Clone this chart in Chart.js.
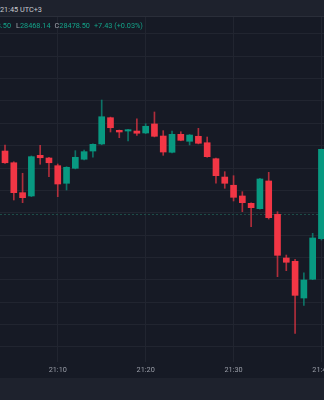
<!DOCTYPE html>
<html>
<head>
<meta charset="utf-8">
<title>BTC 1m</title>
<script src="https://cdn.jsdelivr.net/npm/chart.js@4/dist/chart.umd.min.js"></script>
<style>
  body {
    margin: 0;
    width: 324px;
    height: 400px;
    overflow: hidden;
    position: relative;
    background: #161a25;
    font-family: Roboto, "Liberation Sans", sans-serif;
  }

  /* TOP BAR */
  #topbar {
    position: absolute;
    left: 0;
    top: 0;
    width: 324px;
    height: 16px;
    background: #1e222d;
    border-bottom: 1px solid #2a2e39;
  }

  #topbar span {
    position: absolute;
    left: 0;
    top: 5px;
    font-size: 7.3px;
    line-height: 9px;
    color: #c8cad0;
    white-space: nowrap;
  }

  /* CHART */
  #wrap {
    position: absolute;
    left: 0;
    top: 17px;
    width: 324px;
    height: 361px;
  }

  /* OHLC LEGEND */
  #legend {
    position: absolute;
    left: 0;
    top: 21px;
    display: flex;
    font-size: 7.3px;
    line-height: 9px;
    color: #14a389;
    white-space: nowrap;
  }

  #legend b {
    font-weight: normal;
    color: #a3a6af;
  }

  #legend .item {
    margin-left: 4px;
  }

  #legend .clip {
    position: relative;
    display: inline-block;
    width: 11px;
    height: 9px;
    overflow: hidden;
    margin-left: 0;
  }

  #legend .clip span {
    position: absolute;
    right: 0;
    top: 0;
  }

  #legend .first {
    margin-left: 5px;
  }

  /* BOTTOM BAR */
  #bottombar {
    position: absolute;
    left: 0;
    top: 378px;
    width: 324px;
    height: 22px;
    background: #1e222d;
  }
</style>
</head>
<body>

<div id="topbar"><span>21:45 UTC+3</span></div>

<div id="wrap"><canvas id="candleChart"></canvas></div>

<div id="legend">
  <span class="clip"><span><b>H</b>28478.50</span></span>
  <span class="item first"><b>L</b>28468.14</span>
  <span class="item"><b>C</b>28478.50</span>
  <span class="item">+7.43 (+0.03%)</span>
</div>

<div id="bottombar"></div>

<script>
/* ==========================================
   CANDLE DATA (1 MINUTE)
========================================== */

const times = [
  "21:04", "21:05", "21:06", "21:07", "21:08", "21:09", "21:10", "21:11",
  "21:12", "21:13", "21:14", "21:15", "21:16", "21:17", "21:18", "21:19",
  "21:20", "21:21", "21:22", "21:23", "21:24", "21:25", "21:26", "21:27",
  "21:28", "21:29", "21:30", "21:31", "21:32", "21:33", "21:34", "21:35",
  "21:36", "21:37", "21:38", "21:39", "21:40"
];

const opens = [
  28484.40, 28483.09, 28479.74, 28479.37, 28483.92, 28483.62, 28482.76, 28480.79,
  28482.47, 28483.48, 28484.40, 28485.19, 28488.13, 28486.72, 28486.64, 28486.64,
  28486.42, 28487.43, 28486.08, 28484.26, 28486.27, 28485.49, 28486.05, 28485.33,
  28483.54, 28481.49, 28480.57, 28479.37, 28478.55, 28477.95, 28481.05, 28477.32,
  28472.43, 28472.06, 28467.95, 28470.05, 28474.59
];

const highs = [
  28485.08, 28483.20, 28481.91, 28483.85, 28485.04, 28483.70, 28482.95, 28482.65,
  28484.44, 28484.52, 28485.20, 28490.11, 28488.20, 28486.75, 28486.82, 28487.99,
  28487.46, 28488.77, 28486.68, 28486.64, 28486.56, 28486.25, 28486.94, 28485.97,
  28483.60, 28482.09, 28481.64, 28479.85, 28478.60, 28481.35, 28482.02, 28477.61,
  28472.76, 28472.28, 28470.78, 28475.19, 28484.62
];

const lows = [
  28483.00, 28478.92, 28478.62, 28479.29, 28482.92, 28481.53, 28479.29, 28480.04,
  28482.40, 28483.40, 28483.70, 28485.10, 28486.53, 28485.89, 28485.52, 28486.16,
  28486.35, 28485.98, 28483.92, 28484.20, 28485.55, 28485.08, 28485.20, 28483.70,
  28480.79, 28480.23, 28478.81, 28477.61, 28475.93, 28477.90, 28476.79, 28470.34,
  28471.01, 28464.00, 28467.13, 28470.00, 28474.44
];

const closes = [
  28483.09, 28479.74, 28479.18, 28483.77, 28483.65, 28483.09, 28480.71, 28482.58,
  28483.70, 28484.33, 28485.15, 28488.24, 28487.01, 28486.53, 28486.79, 28486.39,
  28487.17, 28486.05, 28484.29, 28486.27, 28485.60, 28486.19, 28485.27, 28483.77,
  28481.64, 28480.79, 28479.22, 28478.62, 28478.06, 28481.27, 28476.94, 28472.73,
  28471.95, 28468.25, 28469.97, 28474.67, 28484.59
];

/* time axis labels shown under the chart */
const timeTicks = ["21:10", "21:20", "21:30", "21:40"];

/* dashed price line */
const lastPrice = 28477.35;

/* ==========================================
   COLORS
========================================== */

const GREEN = "#089981";
const RED = "#f23645";
const GREEN_WICK = "rgba(8, 153, 129, 0.7)";
const RED_WICK = "rgba(242, 54, 69, 0.7)";
const GRID = "#212530";
const FONT = "Roboto, 'Liberation Sans', sans-serif";

/* ==========================================
   BUILD DATASETS
========================================== */

const toMinute = (t) => Number(t.split(":")[1]);

const minutes = times.map(toMinute);

const isUp = closes.map((c, i) => c >= opens[i]);

const bodies = minutes.map((m, i) => ({ x: m, y: [opens[i], closes[i]] }));
const wicks = minutes.map((m, i) => ({ x: m, y: [lows[i], highs[i]] }));

/* ==========================================
   PRICE LINE PLUGIN
========================================== */

const priceLine = {
  id: "priceLine",
  beforeDatasetsDraw(chart) {
    const { ctx, chartArea, scales } = chart;
    const py = Math.round(scales.y.getPixelForValue(lastPrice)) + 0.5;

    ctx.save();
    ctx.strokeStyle = "#1d4d48";
    ctx.lineWidth = 1;
    ctx.setLineDash([2, 2]);
    ctx.beginPath();
    ctx.moveTo(chartArea.left, py);
    ctx.lineTo(chartArea.right, py);
    ctx.stroke();
    ctx.restore();
  }
};

/* ==========================================
   CANDLE CHART
========================================== */

new Chart(
  document.getElementById("candleChart"),
  {
    type: "bar",

    data: {
      datasets: [
        {
          label: "body",
          data: bodies,
          backgroundColor: isUp.map((u) => (u ? GREEN : RED)),
          borderWidth: 0,
          barThickness: 6,
          grouped: false,
          order: 0
        },
        {
          label: "wick",
          data: wicks,
          backgroundColor: isUp.map((u) => (u ? GREEN_WICK : RED_WICK)),
          borderWidth: 0,
          barThickness: 1,
          grouped: false,
          order: 1
        }
      ]
    },

    options: {
      responsive: true,
      maintainAspectRatio: false,
      animation: false,
      layout: { padding: 0 },

      plugins: {
        legend: { display: false },
        tooltip: { enabled: false }
      },

      scales: {
        x: {
          type: "linear",
          bounds: "data",
          min: 3.43,
          max: 40.29,
          offset: false,
          grid: { color: GRID, offset: false, drawTicks: false },
          border: { display: false },
          ticks: {
            padding: 4,
            color: "#9a9ea8",
            font: { size: 7.3, family: FONT },
            maxRotation: 0,
            autoSkip: false,
            callback: (v) => timeTicks.find((t) => toMinute(t) === v) || ""
          },
          afterBuildTicks: (scale) => {
            scale.ticks = timeTicks.map((t) => ({ value: toMinute(t) }));
          },
          afterFit: (scale) => {
            scale.height = 16;
            scale.paddingLeft = 0;
            scale.paddingRight = 0;
          }
        },

        y: {
          position: "right",
          bounds: "data",
          beginAtZero: false,
          min: 28460.79,
          max: 28499.40,
          grid: { color: GRID, drawTicks: false },
          border: { display: false },
          ticks: { display: false },
          afterBuildTicks: (scale) => {
            const ticks = [];
            for (let v = Math.ceil(scale.min / 2.5) * 2.5; v <= scale.max; v += 2.5) {
              ticks.push({ value: v });
            }
            scale.ticks = ticks;
          },
          afterFit: (scale) => {
            scale.width = 0;
            scale.paddingTop = 0;
            scale.paddingBottom = 0;
          }
        }
      }
    },

    plugins: [priceLine]
  }
);
</script>
</body>
</html>
